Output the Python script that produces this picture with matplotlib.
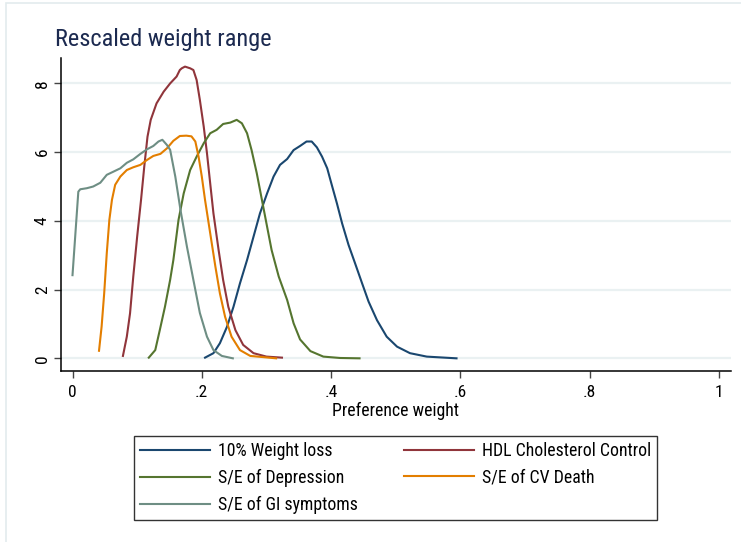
import matplotlib
matplotlib.use("Agg")
import matplotlib.pyplot as plt
from matplotlib.patches import Rectangle

plt.rcParams['font.family'] = ['Roboto Condensed', 'Liberation Sans', 'DejaVu Sans']

# density curves of rescaled preference weights
wl_x = [0.205, 0.218, 0.228, 0.239, 0.249, 0.259, 0.270, 0.280, 0.290, 0.301, 0.311, 0.321,
        0.332, 0.342, 0.352, 0.362, 0.370, 0.378, 0.386, 0.394, 0.401, 0.409, 0.417, 0.427,
        0.437, 0.448, 0.458, 0.471, 0.486, 0.502, 0.522, 0.548, 0.594]
wl_y = [0.02, 0.15, 0.44, 0.92, 1.50, 2.18, 2.86, 3.54, 4.22, 4.80, 5.29, 5.63,
        5.80, 6.06, 6.18, 6.31, 6.31, 6.14, 5.87, 5.53, 5.05, 4.51, 3.93, 3.30,
        2.77, 2.18, 1.65, 1.11, 0.63, 0.34, 0.15, 0.05, 0.0]

hdl_x = [0.078, 0.084, 0.089, 0.094, 0.100, 0.106, 0.111, 0.116, 0.121, 0.130, 0.141, 0.151,
         0.161, 0.166, 0.169, 0.174, 0.182, 0.187, 0.192, 0.197, 0.203, 0.208, 0.213, 0.218,
         0.226, 0.233, 0.241, 0.252, 0.264, 0.280, 0.300, 0.324]
hdl_y = [0.07, 0.63, 1.31, 2.38, 3.54, 4.61, 5.58, 6.45, 6.94, 7.42, 7.76, 8.00,
         8.20, 8.39, 8.44, 8.49, 8.44, 8.39, 8.10, 7.52, 6.74, 5.97, 5.09, 4.22,
         3.15, 2.28, 1.50, 0.82, 0.39, 0.15, 0.05, 0.02]

dep_x = [0.118, 0.128, 0.135, 0.143, 0.151, 0.156, 0.164, 0.172, 0.182, 0.192, 0.203, 0.213,
         0.223, 0.233, 0.244, 0.254, 0.262, 0.270, 0.277, 0.285, 0.293, 0.301, 0.308, 0.319,
         0.332, 0.342, 0.352, 0.368, 0.388, 0.414, 0.444]
dep_y = [0.02, 0.24, 0.82, 1.50, 2.28, 2.86, 4.03, 4.80, 5.48, 5.87, 6.26, 6.55,
         6.65, 6.82, 6.86, 6.94, 6.84, 6.55, 6.06, 5.39, 4.61, 3.83, 3.15, 2.38,
         1.70, 1.02, 0.55, 0.21, 0.05, 0.01, 0.0]

cv_x = [0.041, 0.045, 0.049, 0.053, 0.057, 0.061, 0.066, 0.074, 0.084, 0.094, 0.105, 0.115,
        0.125, 0.136, 0.146, 0.156, 0.166, 0.176, 0.184, 0.190, 0.195, 0.200, 0.205, 0.213,
        0.221, 0.228, 0.236, 0.246, 0.259, 0.275, 0.315]
cv_y = [0.22, 0.92, 1.89, 3.06, 4.03, 4.61, 5.05, 5.29, 5.48, 5.56, 5.63, 5.77,
        5.89, 5.95, 6.11, 6.33, 6.47, 6.48, 6.46, 6.31, 5.87, 5.29, 4.61, 3.64,
        2.67, 1.89, 1.21, 0.63, 0.24, 0.07, 0.0]

gi_x = [0.000, 0.009, 0.012, 0.022, 0.032, 0.043, 0.053, 0.063, 0.074, 0.084, 0.094, 0.105,
        0.115, 0.125, 0.133, 0.139, 0.146, 0.151, 0.159, 0.167, 0.177, 0.187, 0.197, 0.208,
        0.218, 0.231, 0.248]
gi_y = [2.42, 4.85, 4.92, 4.95, 5.00, 5.11, 5.34, 5.43, 5.53, 5.69, 5.79, 5.95,
        6.08, 6.18, 6.31, 6.36, 6.21, 6.07, 5.29, 4.32, 3.25, 2.28, 1.32, 0.63,
        0.24, 0.07, 0.0]

series = [
    ("10% Weight loss", wl_x, wl_y, "#1a476f"),
    ("HDL Cholesterol Control", hdl_x, hdl_y, "#90353b"),
    ("S/E of Depression", dep_x, dep_y, "#55752f"),
    ("S/E of CV Death", cv_x, cv_y, "#e37e00"),
    ("S/E of GI symptoms", gi_x, gi_y, "#6e8e84"),
]

xticks = [0, 0.2, 0.4, 0.6, 0.8, 1.0]
xticklabels = ["0", ".2", ".4", ".6", ".8", "1"]
yticks = [0, 2, 4, 6, 8]

fig = plt.figure(figsize=(7.41, 5.42), dpi=100)
fig.patch.set_facecolor("white")

# faint outer frame of the graph region
fig.patches.append(Rectangle((6 / 741, -0.1), 1.2, 1.1 - 3 / 542, transform=fig.transFigure,
                             fill=False, edgecolor="#e3ebed", linewidth=1.2, zorder=0))

ax = fig.add_axes([61 / 741, 1 - 370.7 / 542, (731 - 61) / 741, (370.7 - 58) / 542])

lines = {}
for name, xs, ys, col in series:
    lines[name], = ax.plot(xs, ys, color=col, linewidth=1.5, label=name, zorder=3)

ax.set_xlim(-0.0178, 1.0186)
ax.set_ylim(-0.36, 8.74)

ax.set_xticks(xticks)
ax.set_xticklabels(xticklabels)
ax.set_yticks(yticks)
ax.set_yticklabels([str(v) for v in yticks], rotation=90, va="center")

ax.tick_params(axis="both", length=5, width=1, color="#444444", labelsize=12.5)
ax.tick_params(axis="x", pad=5)
ax.tick_params(axis="y", pad=3)
ax.grid(axis="y", color="#eaf1f2", linewidth=1.6, zorder=0)
ax.set_axisbelow(True)

for s in ["top", "right"]:
    ax.spines[s].set_visible(False)
for s in ["left", "bottom"]:
    ax.spines[s].set_linewidth(1.1)
    ax.spines[s].set_color("black")

ax.set_xlabel("Preference weight", fontsize=12.8, labelpad=1.5)

fig.text(55 / 741, 1 - 46 / 542, "Rescaled weight range", fontsize=17.6,
         color="#1c2a50", va="baseline", ha="left")

# two-column legend filled row by row
order = ["10% Weight loss", "S/E of Depression", "S/E of GI symptoms",
         "HDL Cholesterol Control", "S/E of CV Death"]
leg = ax.legend([lines[k] for k in order], order, ncol=2, loc="lower left",
                bbox_to_anchor=(134 / 741, 1 - 520 / 542, (657 - 134) / 741, (520 - 434) / 542),
                bbox_transform=fig.transFigure, mode="expand", borderaxespad=0,
                fontsize=12.8, handlelength=3.9, handletextpad=0.45, labelspacing=0.5,
                borderpad=0.35, columnspacing=1.0, fancybox=False, framealpha=1)
leg.get_frame().set_edgecolor("#333333")
leg.get_frame().set_linewidth(1.0)

fig.savefig("out.png", dpi=100, facecolor="white")
